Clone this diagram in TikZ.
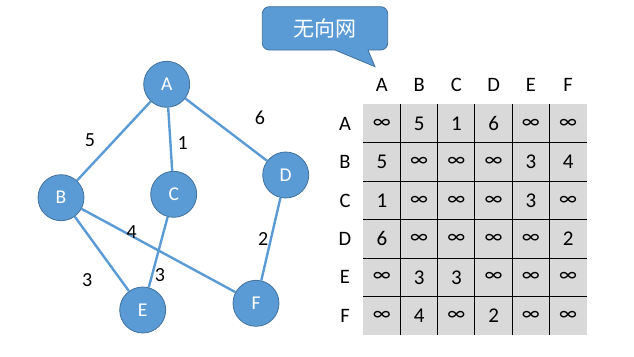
\documentclass[tikz,border=0pt]{standalone}
\usepackage{fontspec}
\setmainfont{Carlito}
\newfontfamily\cjk{Noto Sans CJK SC}
\definecolor{nodeblue}{HTML}{5B9BD5}
\definecolor{nodeborder}{HTML}{41719C}
\definecolor{cellgray}{HTML}{D9D9D9}
\begin{document}
\begin{tikzpicture}[x=1pt,y=-1pt,
  vert/.style={circle,fill=nodeblue,draw=nodeborder,line width=0.8pt,minimum size=46pt,inner sep=0pt,text=white,font=\fontsize{19.5}{19.5}\selectfont},
  edge/.style={draw=nodeblue,line width=2.4pt},
  wlabel/.style={font=\fontsize{20}{20}\selectfont,inner sep=0pt},
  cell/.style={font=\fontsize{21}{21}\selectfont,inner sep=0pt},
  hdr/.style={font=\fontsize{20.5}{20.5}\selectfont,inner sep=0pt}]
\useasboundingbox (0,0) rectangle (634,356);
% graph
\node[vert] (A) at (166.7,84.3) {A};
\node[vert] (B) at (61,197.7) {B};
\node[vert] (C) at (173.7,194.3) {C};
\node[vert] (D) at (285.7,175) {D};
\node[vert] (E) at (142.7,310) {E};
\node[vert] (F) at (256,303.3) {F};
\draw[edge] (A) -- (B);
\draw[edge] (A) -- (C);
\draw[edge] (A) -- (D);
\draw[edge] (B) -- (E);
\draw[edge] (B) -- (F);
\draw[edge] (C) -- (E);
\draw[edge] (D) -- (F);
\node[wlabel] (w5) at (90,140) {5};
\node[wlabel] (w1) at (182.7,143.3) {1};
\node[wlabel] (w6) at (260,118.3) {6};
\node[wlabel] (w4) at (131.7,231.7) {4};
\node[wlabel] (w2) at (263.3,239.3) {2};
\node[wlabel] (w3a) at (87.3,280) {3};
\node[wlabel] (w3b) at (160,275) {3};
% callout
\draw[fill=nodeblue,draw=nodeborder,line width=0.8pt,rounded corners=7]
  (320,50) -- (262.3,50) -- (262.3,6.7) -- (387.7,6.7) -- (387.7,50) [sharp corners] -- (368,50) -- (375,66.7) -- (335,50) -- cycle;
\node[text=white,font=\cjk\fontsize{21}{21}\selectfont,inner sep=0pt] (title) at (325,28.5) {无向网};
% table
\fill[cellgray] (363.3,104.3) rectangle (586.7,335);
\foreach \i in {1,...,5}{
  \draw[black,line width=1pt] ({363.3+37.23*\i},104.3) -- ({363.3+37.23*\i},335);
  \draw[black,line width=1pt] (363.3,{104.3+38.45*\i}) -- (586.7,{104.3+38.45*\i});
}
\foreach \n [count=\j from 0] in {A,B,C,D,E,F}{
  \node[hdr] (col\n) at ({363.3+37.23*(\j+0.5)},85) {\n};
  \node[hdr] (row\n) at (345,{104.3+38.45*(\j+0.5)}) {\n};
}
\foreach \row [count=\i from 0] in {
  {∞,5,1,6,∞,∞},
  {5,∞,∞,∞,3,4},
  {1,∞,∞,∞,3,∞},
  {6,∞,∞,∞,∞,2},
  {∞,3,3,∞,∞,∞},
  {∞,4,∞,2,∞,∞}}{
  \foreach \v [count=\j from 0] in \row {
    \node[cell] (c\i\j) at ({363.3+37.23*(\j+0.5)},{104.3+38.45*(\i+0.5)}) {\v};
  }
}
\end{tikzpicture}
\end{document}
